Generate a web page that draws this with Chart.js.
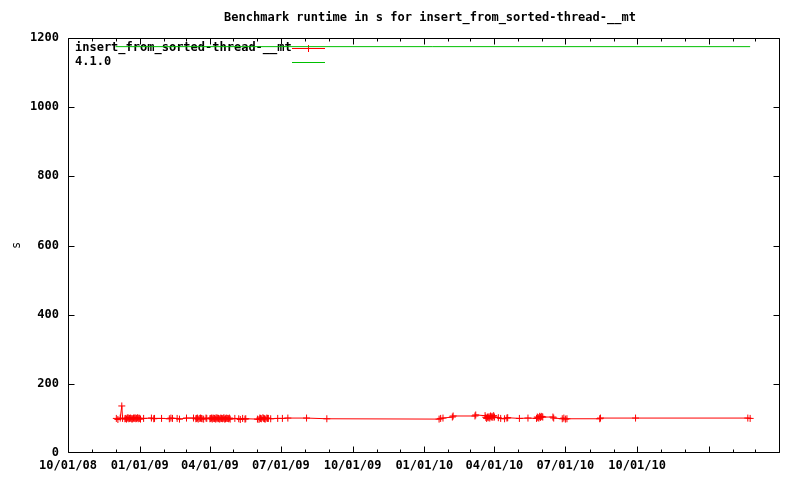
<!DOCTYPE html>
<html><head><meta charset="utf-8">
<script src="https://cdn.jsdelivr.net/npm/chart.js@4.4.0/dist/chart.umd.min.js"></script>
<style>html,body{margin:0;padding:0;background:#fff;}canvas{display:block;}</style>
</head><body>
<canvas id="c" width="800" height="480"></canvas>
<script>
const chartTitle = 'Benchmark runtime in s for insert_from_sorted-thread-__mt';
const yTitle = 's';
const seriesNames = ['insert_from_sorted-thread-__mt', '4.1.0'];
const seriesColors = ['#ff0000', '#00c000'];

const runDates = ['2008-12-02','2008-12-04','2008-12-07','2008-12-09','2008-12-10','2008-12-13','2008-12-14','2008-12-15','2008-12-16','2008-12-17','2008-12-18','2008-12-19','2008-12-20','2008-12-21','2008-12-22','2008-12-23','2008-12-24','2008-12-25','2008-12-26','2008-12-27','2008-12-28','2008-12-29','2008-12-30','2008-12-31',
'2009-01-01','2009-01-02','2009-01-06','2009-01-16','2009-01-19','2009-01-20','2009-01-29','2009-02-08','2009-02-10','2009-02-12','2009-02-18','2009-02-21',
'2009-03-02','2009-03-11','2009-03-14','2009-03-15','2009-03-16','2009-03-17','2009-03-19','2009-03-20','2009-03-21','2009-03-22','2009-03-24','2009-03-27','2009-03-28',
'2009-04-01','2009-04-02','2009-04-03','2009-04-04','2009-04-05','2009-04-06','2009-04-07','2009-04-08','2009-04-09','2009-04-10','2009-04-11','2009-04-12','2009-04-13','2009-04-14','2009-04-15','2009-04-16','2009-04-17','2009-04-18','2009-04-19','2009-04-20','2009-04-21','2009-04-22','2009-04-23','2009-04-24','2009-04-25','2009-04-26','2009-04-27',
'2009-05-03','2009-05-08','2009-05-10','2009-05-13','2009-05-16','2009-05-17',
'2009-06-01','2009-06-03','2009-06-04','2009-06-05','2009-06-06','2009-06-08','2009-06-09','2009-06-10','2009-06-11','2009-06-13','2009-06-14','2009-06-15','2009-06-18','2009-06-27',
'2009-07-03','2009-07-10','2009-08-03','2009-08-29',
'2010-01-20','2010-01-22','2010-01-25','2010-02-06','2010-02-07','2010-03-07','2010-03-08','2010-03-20','2010-03-21','2010-03-22','2010-03-23','2010-03-24','2010-03-25','2010-03-26','2010-03-27','2010-03-28','2010-03-29','2010-03-30','2010-03-31',
'2010-04-01','2010-04-06','2010-04-09','2010-04-14','2010-04-17','2010-04-18','2010-05-03','2010-05-14','2010-05-25','2010-05-26','2010-05-27','2010-05-28','2010-05-29','2010-05-30','2010-05-31',
'2010-06-01','2010-06-02','2010-06-15','2010-06-16','2010-06-27','2010-06-29','2010-07-01','2010-07-03','2010-08-14','2010-08-15','2010-09-29','2011-02-20','2011-02-23'];
const runValues = [100,97,101,136,100,99,100,98,101,102,99,100,101,100,98,99,101,100,102,99,100,102,99,101,
100,98,100,101,99,100,100,99,101,100,100,98,
101,101,99,100,101,98,100,101,100,99,98,101,100,
99,100,101,98,101,100,100,98,102,99,101,100,98,99,101,100,99,100,102,98,99,101,100,100,99,101,98,
100,99,97,100,98,99,
98,97,101,100,99,102,100,99,98,101,100,100,99,100,
100,101,101,99,
98,100,101,104,107,107,110,108,103,100,104,102,105,101,107,104,106,103,108,
104,102,100,99,101,102,100,101,100,104,102,101,106,103,106,
105,104,104,101,99,101,98,99,99,101,101,101,100];

const refDates = ['2008-12-01', '2011-02-23'];
const refValues = [1175, 1175];

const yTicks = [0, 200, 400, 600, 800, 1000, 1200];
const xTickDates = ['2008-10-01','2009-01-01','2009-04-01','2009-07-01','2009-10-01','2010-01-01','2010-04-01','2010-07-01','2010-10-01'];
const xTickLabels = ['10/01/08','01/01/09','04/01/09','07/01/09','10/01/09','01/01/10','04/01/10','07/01/10','10/01/10'];
const xRange = ['2008-10-01', '2011-04-01'];

const DAY = 86400000;
const t0 = Date.parse(xRange[0]);
const toX = d => (Date.parse(d) - t0) / DAY;

const FONT = '"DejaVu Sans Mono", monospace';
Chart.defaults.font = { family: FONT, size: 12, weight: 'bold' };
Chart.defaults.color = '#000';

const gnuplotDeco = {
  id: 'gnuplotDeco',
  beforeDatasetsDraw(chart) {
    const { ctx, chartArea: a, scales: { x, y } } = chart;
    ctx.save();
    ctx.strokeStyle = '#000';
    ctx.lineWidth = 1;
    const L = a.left + 0.5, R = a.right + 0.5, T = a.top + 0.5, B = a.bottom - 0.5;
    ctx.beginPath();
    ctx.rect(L, T, R - L, B - T);
    yTicks.forEach(v => {
      let p = Math.round(y.getPixelForValue(v)) + 0.5;
      p = Math.min(Math.max(p, T), B);
      ctx.moveTo(L, p); ctx.lineTo(L + 6, p);
      ctx.moveTo(R, p); ctx.lineTo(R - 6, p);
    });
    const s = new Date(t0);
    const endT = Date.parse(xRange[1]);
    for (let yr = s.getUTCFullYear(), m = s.getUTCMonth(); ; m++) {
      if (m > 11) { m = 0; yr++; }
      const t = Date.UTC(yr, m, 1);
      if (t > endT) break;
      const len = (m % 3 === 0) ? 6 : 3;
      let p = Math.round(x.getPixelForValue((t - t0) / DAY)) + 0.5;
      p = Math.min(Math.max(p, L), R);
      ctx.moveTo(p, B); ctx.lineTo(p, B - len);
      ctx.moveTo(p, T); ctx.lineTo(p, T + len);
    }
    ctx.stroke();

    ctx.font = 'bold 12px ' + FONT;
    ctx.textAlign = 'left';
    ctx.textBaseline = 'middle';
    chart.data.datasets.forEach((ds, i) => {
      const ly = 48 + 14 * i;
      ctx.fillStyle = '#000';
      ctx.fillText(ds.label, 75, ly);
      ctx.strokeStyle = ds.borderColor;
      ctx.beginPath();
      ctx.moveTo(292, ly + 0.5); ctx.lineTo(325, ly + 0.5);
      if (ds.pointRadius > 0) {
        ctx.moveTo(308.5, ly - 3); ctx.lineTo(308.5, ly + 4);
        ctx.moveTo(305, ly + 0.5); ctx.lineTo(312, ly + 0.5);
      }
      ctx.stroke();
    });

    ctx.fillStyle = '#000';
    ctx.textAlign = 'center';
    ctx.fillText(chartTitle, 430, 18);
    ctx.restore();
  }
};

new Chart(document.getElementById('c'), {
  type: 'line',
  data: {
    datasets: [
      {
        label: seriesNames[0],
        data: runDates.map((d, i) => ({ x: toX(d), y: runValues[i] })),
        borderColor: seriesColors[0],
        backgroundColor: seriesColors[0],
        borderWidth: 1,
        pointStyle: 'cross',
        pointRadius: 3.5,
        pointBorderWidth: 1,
        pointHoverRadius: 3.5,
        tension: 0,
        fill: false
      },
      {
        label: seriesNames[1],
        data: refDates.map((d, i) => ({ x: toX(d), y: refValues[i] })),
        borderColor: seriesColors[1],
        backgroundColor: seriesColors[1],
        borderWidth: 1,
        pointRadius: 0,
        tension: 0,
        fill: false
      }
    ]
  },
  options: {
    responsive: false,
    animation: false,
    devicePixelRatio: 1,
    layout: { padding: { left: 0, right: 21, top: 38, bottom: 0 } },
    plugins: { legend: { display: false }, title: { display: false }, tooltip: { enabled: false } },
    scales: {
      x: {
        type: 'linear',
        min: toX(xRange[0]),
        max: toX(xRange[1]),
        grid: { display: false, drawTicks: false },
        border: { display: false },
        afterFit: s => { s.height = 27; },
        afterBuildTicks: s => { s.ticks = xTickDates.map(d => ({ value: toX(d) })); },
        ticks: {
          autoSkip: false, maxRotation: 0, padding: 6,
          callback: (v, i) => xTickLabels[i]
        }
      },
      y: {
        min: 0, max: 1200,
        grid: { display: false, drawTicks: false },
        border: { display: false },
        afterFit: s => { s.width = 68; },
        afterBuildTicks: s => { s.ticks = yTicks.map(v => ({ value: v })); },
        ticks: { padding: 9, callback: v => String(v) },
        title: { display: true, text: yTitle, padding: { top: 10, bottom: 0 }, font: { family: FONT, size: 12, weight: 'normal' } }
      }
    }
  },
  plugins: [gnuplotDeco]
});
</script>
</body></html>
